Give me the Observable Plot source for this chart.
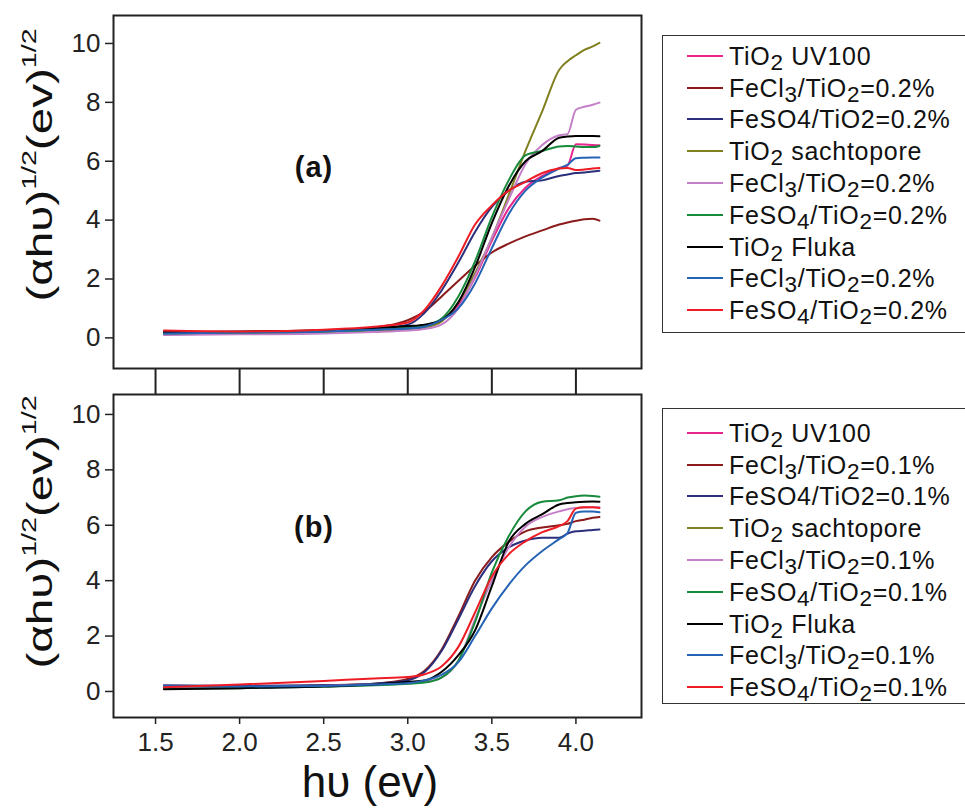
<!DOCTYPE html>
<html>
<head>
<meta charset="utf-8">
<script src="https://cdn.jsdelivr.net/npm/d3@7"></script>
<script src="https://cdn.jsdelivr.net/npm/@observablehq/plot@0.6"></script>
<style>
  body { margin: 0; background: #fff; font-family: "Liberation Sans", Arial, sans-serif; color: #111; }
  #wrap { position: relative; width: 965px; height: 808px; overflow: hidden; background: #fff; }
  .legend { position: absolute; border: 1.5px solid #333; background: #fff; box-sizing: border-box; }
  .legend .row { display: flex; align-items: center; height: 31.8px; font-size: 25px; line-height: 26px; white-space: nowrap; }
  .legend .sw { width: 36px; height: 2px; margin-right: 6px; flex: none; }
  .legend sub { font-size: 0.9em; vertical-align: -0.24em; line-height: 0; }
  .ytitle { position: absolute; white-space: nowrap; font-size: 35px; transform: translate(-50%, -50%) rotate(-90deg) scaleX(1.36); transform-origin: center; }
  .ytitle sup { font-size: 21px; vertical-align: 0.75em; line-height: 0; }
  .panel { position: absolute; font-weight: bold; font-size: 29px; transform: translate(-50%, -50%); letter-spacing: 1px; }
  .xtitle { position: absolute; font-size: 44px; transform: translate(-50%, -50%); white-space: nowrap; }
</style>
</head>
<body>
<div id="wrap"></div>
<script>
// ---------- data ----------
const energy = [1.55, 2.0, 2.5, 2.8, 3.0, 3.1, 3.2, 3.3, 3.4, 3.5, 3.6, 3.7, 3.8, 3.9, 3.95, 4.0, 4.05, 4.1, 4.14];

const seriesIds = ["uv100", "fecl3_1", "feso4_1", "sachtopore", "fecl3_2", "feso4_2", "fluka", "fecl3_3", "feso4_3"];
const seriesColors = ["#e8258c", "#8b1a1a", "#2b2f7c", "#808020", "#c47fc8", "#178a3c", "#000000", "#2563b5", "#ee1c24"];

// panel (a): 0.2 %
const a_uv100      = [0.15,0.18,0.22,0.28,0.32,0.38,0.60,1.10,2.05,3.30,4.40,5.10,5.50,5.77,5.85,6.58,6.57,6.55,6.54];
const a_fecl3_1    = [0.20,0.20,0.25,0.35,0.60,0.90,1.40,1.93,2.45,2.90,3.20,3.45,3.65,3.85,3.92,3.98,4.03,4.05,3.98];
const a_feso4_1    = [0.18,0.20,0.24,0.32,0.45,0.85,1.60,2.55,3.60,4.45,5.00,5.30,5.35,5.50,5.55,5.60,5.62,5.65,5.68];
const a_sachtopore = [0.12,0.15,0.20,0.25,0.30,0.35,0.55,1.20,2.20,3.40,4.85,6.35,7.70,9.10,9.40,9.60,9.78,9.90,10.02];
const a_fecl3_2    = [0.10,0.12,0.15,0.20,0.25,0.30,0.45,1.00,2.10,3.40,4.70,5.90,6.55,6.88,6.92,7.75,7.85,7.92,7.99];
const a_feso4_2    = [0.15,0.18,0.22,0.28,0.35,0.42,0.65,1.40,2.60,4.10,5.35,6.20,6.35,6.50,6.52,6.50,6.48,6.48,6.52];
const a_fluka      = [0.18,0.22,0.26,0.32,0.40,0.45,0.60,1.20,2.40,3.90,5.15,6.00,6.35,6.80,6.84,6.86,6.86,6.86,6.85];
const a_fecl3_3    = [0.15,0.18,0.22,0.28,0.32,0.38,0.60,1.00,1.85,3.05,4.20,5.00,5.45,5.75,5.88,6.10,6.12,6.13,6.13];
const a_feso4_3    = [0.25,0.22,0.28,0.38,0.52,0.95,1.75,2.75,3.85,4.50,5.00,5.30,5.60,5.75,5.77,5.70,5.72,5.75,5.77];

// panel (b): 0.1 %  (UV100 and sachtopore curves are not visible in the original)
const b_fecl3_1    = [0.15,0.18,0.22,0.28,0.45,0.75,1.50,2.70,4.00,4.85,5.40,5.78,5.92,6.00,6.05,6.15,6.20,6.27,6.30];
const b_feso4_1    = [0.22,0.20,0.22,0.28,0.40,0.70,1.45,2.60,3.80,4.70,5.20,5.45,5.55,5.55,5.70,5.78,5.80,5.83,5.85];
const b_fecl3_2    = [0.12,0.15,0.20,0.25,0.30,0.35,0.50,1.10,2.60,4.00,5.20,5.95,6.30,6.50,6.58,6.62,6.64,6.65,6.65];
const b_feso4_2    = [0.10,0.12,0.18,0.22,0.28,0.32,0.50,1.10,2.50,4.30,5.60,6.50,6.85,6.90,7.00,7.05,7.07,7.06,7.03];
const b_fluka      = [0.08,0.12,0.18,0.25,0.35,0.40,0.70,1.30,2.20,3.80,5.40,6.05,6.40,6.75,6.80,6.83,6.85,6.86,6.85];
const b_fecl3_3    = [0.20,0.18,0.20,0.25,0.30,0.40,0.60,1.05,2.00,3.00,3.85,4.55,5.07,5.50,5.72,6.45,6.50,6.50,6.47];
const b_feso4_3    = [0.15,0.25,0.38,0.47,0.52,0.62,0.90,1.60,2.85,4.15,4.95,5.42,5.75,5.97,6.15,6.60,6.65,6.65,6.62];

const legendA = ["TiO<sub>2</sub> UV100", "FeCl<sub>3</sub>/TiO<sub>2</sub>=0.2%", "FeSO4/TiO2=0.2%", "TiO<sub>2</sub> sachtopore",
                 "FeCl<sub>3</sub>/TiO<sub>2</sub>=0.2%", "FeSO<sub>4</sub>/TiO<sub>2</sub>=0.2%", "TiO<sub>2</sub> Fluka",
                 "FeCl<sub>3</sub>/TiO<sub>2</sub>=0.2%", "FeSO<sub>4</sub>/TiO<sub>2</sub>=0.2%"];
const legendB = ["TiO<sub>2</sub> UV100", "FeCl<sub>3</sub>/TiO<sub>2</sub>=0.1%", "FeSO4/TiO2=0.1%", "TiO<sub>2</sub> sachtopore",
                 "FeCl<sub>3</sub>/TiO<sub>2</sub>=0.1%", "FeSO<sub>4</sub>/TiO<sub>2</sub>=0.1%", "TiO<sub>2</sub> Fluka",
                 "FeCl<sub>3</sub>/TiO<sub>2</sub>=0.1%", "FeSO<sub>4</sub>/TiO<sub>2</sub>=0.1%"];

const xTicks = [1.5, 2.0, 2.5, 3.0, 3.5, 4.0];
const yTicks = [0, 2, 4, 6, 8, 10];
const yTitleHTML = "(&alpha;h&upsilon;)<sup>1/2</sup>(ev)<sup>1/2</sup>";
const xTitle = "h\u03C5 (ev)";
const panelLabels = ["(a)", "(b)"];

// ---------- build tidy tables ----------
function tidy(obj) {
  const rows = [];
  for (const [id, vals] of Object.entries(obj)) vals.forEach((v, i) => rows.push({id, e: energy[i], v}));
  return rows;
}
const dataA = tidy({uv100: a_uv100, fecl3_1: a_fecl3_1, feso4_1: a_feso4_1, sachtopore: a_sachtopore,
  fecl3_2: a_fecl3_2, feso4_2: a_feso4_2, fluka: a_fluka, fecl3_3: a_fecl3_3, feso4_3: a_feso4_3});
const dataB = tidy({fecl3_1: b_fecl3_1, feso4_1: b_feso4_1, fecl3_2: b_fecl3_2, feso4_2: b_feso4_2,
  fluka: b_fluka, fecl3_3: b_fecl3_3, feso4_3: b_feso4_3});

const font = '"Liberation Sans", Arial, sans-serif';
const colorScale = {type: "ordinal", domain: seriesIds, range: seriesColors};

const plotA = Plot.plot({
  width: 645, height: 394,
  marginLeft: 113, marginRight: 4, marginTop: 15, marginBottom: 26,
  x: {domain: [1.25, 4.39]},
  y: {domain: [-1.04, 10.95]},
  color: colorScale,
  style: {fontFamily: font, color: "#222", background: "none", overflow: "visible"},
  marks: [
    Plot.axisY({ticks: yTicks, tickSize: 8, tickPadding: 5, fontSize: 26, strokeWidth: 1.5, label: null}),
    Plot.axisX({ticks: xTicks, tickSize: 26, tickFormat: () => "", strokeWidth: 2, label: null}),
    Plot.line(dataA, {x: "e", y: "v", z: "id", stroke: "id", strokeWidth: 2, curve: "monotone-x"}),
    Plot.frame({stroke: "#222", strokeWidth: 2})
  ]
});

const plotB = Plot.plot({
  width: 645, height: 375,
  marginLeft: 113, marginRight: 4, marginTop: 2, marginBottom: 50,
  x: {domain: [1.25, 4.39]},
  y: {domain: [-0.94, 10.72]},
  color: colorScale,
  style: {fontFamily: font, color: "#222", background: "none", overflow: "visible"},
  marks: [
    Plot.axisY({ticks: yTicks, tickSize: 8, tickPadding: 5, fontSize: 26, strokeWidth: 1.5, label: null}),
    Plot.axisX({ticks: xTicks, tickSize: 7, tickPadding: 8, fontSize: 26, tickFormat: d3.format(".1f"), strokeWidth: 1.5, label: null}),
    Plot.line(dataB, {x: "e", y: "v", z: "id", stroke: "id", strokeWidth: 2, curve: "monotone-x"}),
    Plot.frame({stroke: "#222", strokeWidth: 2})
  ]
});

const wrap = document.getElementById("wrap");
function place(el, left, top) {
  el.style.position = "absolute"; el.style.left = left + "px"; el.style.top = top + "px";
  wrap.appendChild(el);
}
place(plotA, 0, 0);
place(plotB, 0, 392);

function legend(labels, left, top, height, padTop) {
  const box = document.createElement("div");
  box.className = "legend";
  box.style.left = left + "px"; box.style.top = top + "px";
  box.style.width = "320px"; box.style.height = height + "px";
  box.style.paddingTop = padTop + "px"; box.style.paddingLeft = "24px";
  labels.forEach((lab, i) => {
    const row = document.createElement("div"); row.className = "row";
    const sw = document.createElement("span"); sw.className = "sw"; sw.style.background = seriesColors[i];
    const tx = document.createElement("span"); tx.innerHTML = lab; tx.style.letterSpacing = "0.7px";
    row.appendChild(sw); row.appendChild(tx); box.appendChild(row);
  });
  wrap.appendChild(box);
}
legend(legendA, 662, 35, 298, 4);
legend(legendB, 662, 408, 296, 8);

function label(cls, html, x, y) {
  const d = document.createElement("div"); d.className = cls; d.innerHTML = html;
  d.style.left = x + "px"; d.style.top = y + "px"; wrap.appendChild(d);
}
label("ytitle", yTitleHTML, 40, 165);
label("ytitle", yTitleHTML, 40, 532);
label("panel", panelLabels[0], 314, 167);
label("panel", panelLabels[1], 314, 527);
label("xtitle", xTitle, 370, 782);
</script>
</body>
</html>
